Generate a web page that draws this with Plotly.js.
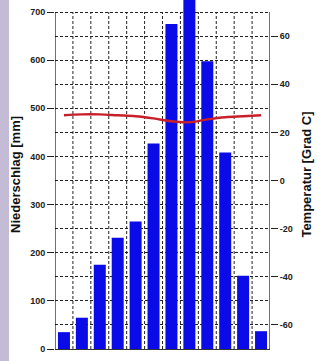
<!DOCTYPE html>
<html>
<head>
<meta charset="utf-8">
<script src="https://cdn.plot.ly/plotly-3.0.1.min.js"></script>
<style>
html,body{margin:0;padding:0;background:#fff;}
#chart{width:327px;height:361px;}
</style>
</head>
<body>
<div id="chart"></div>
<script>
// Data
const months = [1,2,3,4,5,6,7,8,9,10,11,12];
const precipitation = [35, 65, 175, 231, 265, 427, 675, 745, 598, 408, 152, 37];
const temperature = [27.1, 27.5, 27.5, 27.1, 26.7, 25.8, 24.6, 24.2, 25.4, 26.3, 26.7, 27.1];
const precipTicks = [0,100,200,300,400,500,600,700];
const tempTicks = [-60,-40,-20,0,20,40,60];
const monthBounds = [1.5,2.5,3.5,4.5,5.5,6.5,7.5,8.5,9.5,10.5,11.5];

const bars = {
  type: 'bar', x: months, y: precipitation, width: 0.67,
  marker: {color: '#0b0be8', line: {width: 0}},
  hoverinfo: 'skip', showlegend: false
};
const temp = {
  type: 'scatter', mode: 'lines', x: months, y: temperature, yaxis: 'y2',
  line: {color: '#c8202a', width: 2.4, shape: 'spline'},
  hoverinfo: 'skip', showlegend: false
};

const shapes = [];
monthBounds.forEach(b => shapes.push({
  type: 'line', xref: 'x', yref: 'y', x0: b, x1: b, y0: 0, y1: 700,
  line: {color: '#222', width: 1, dash: '3px,2px'}, layer: 'below'
}));
[0.5, 12.5].forEach(b => shapes.push({
  type: 'line', xref: 'x', yref: 'y', x0: b, x1: b, y0: 0, y1: 700,
  line: {color: '#111', width: 1.2}, layer: 'above'
}));
// lavender scan strip at left edge
shapes.push({type:'rect', xref:'paper', yref:'paper', x0:-0.256, x1:-0.214, y0:-0.04, y1:1,
  line:{width:0}, fillcolor:'#c4bcd6', layer:'below'});

const tickFont = {family: 'Liberation Sans, Arial, sans-serif', size: 9, color: '#222', weight: 'bold'};
const titleFont = {family: 'Liberation Sans, Arial, sans-serif', size: 13, color: '#111', weight: 'bold'};

const layout = {
  width: 327, height: 361,
  margin: {l: 55, r: 57, t: 0, b: 12, pad: 0},
  paper_bgcolor: '#ffffff', plot_bgcolor: '#ffffff',
  shapes: shapes,
  xaxis: {range: [0.5, 12.5], showgrid: false, zeroline: false, showticklabels: false,
    ticks: '', showline: true, linecolor: '#333', linewidth: 1, fixedrange: true},
  yaxis: {range: [0, 725], tickvals: precipTicks, ticktext: precipTicks.map(String),
    ticks: 'outside', ticklen: 7, tickcolor: '#222', tickwidth: 1,
    showgrid: true, gridcolor: '#222', gridwidth: 1, griddash: '3px,2px',
    minor: {dtick: 50, tick0: 0, showgrid: true, gridcolor: '#222', gridwidth: 1, griddash: '3px,2px', ticks: ''},
    zeroline: false, showline: false, tickfont: tickFont,
    title: {text: 'Niederschlag [mm]', font: titleFont, standoff: 6}},
  yaxis2: {range: [-70, 75], overlaying: 'y', side: 'right', tickvals: tempTicks,
    ticktext: tempTicks.map(String), ticks: 'outside', ticklen: 7, tickcolor: '#222',
    showgrid: false, zeroline: false, showline: false, tickfont: tickFont,
    title: {text: 'Temperatur [Grad C]', font: titleFont, standoff: 10}},
  bargap: 0.33
};

Plotly.newPlot('chart', [bars, temp], layout, {staticPlot: true, displayModeBar: false});
</script>
</body>
</html>
